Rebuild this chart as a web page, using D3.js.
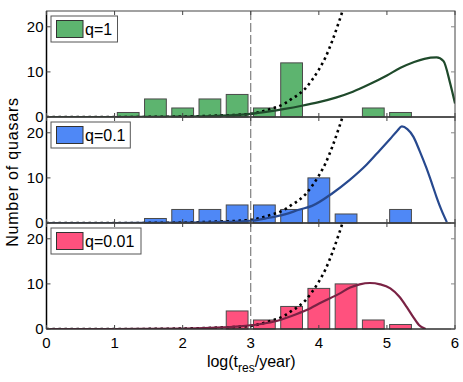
<!DOCTYPE html>
<html><head><meta charset="utf-8">
<script src="https://cdn.jsdelivr.net/npm/d3@7"></script>
<style>body{margin:0;background:#fff}svg{display:block}text{font-family:"Liberation Sans",Arial,sans-serif}</style>
</head><body><svg id="c" width="463" height="382"></svg>
<script>
// ---- data ----
const binCenters = [0.4,0.8,1.2,1.6,2.0,2.4,2.8,3.2,3.6,4.0,4.4,4.8,5.2,5.6];
const countsQ1   = [0,0,1,4,2,4,5,2,12,0,0,2,1,0];
const countsQ01  = [0,0,0,1,3,3,4,4,3,10,2,0,3,0];
const countsQ001 = [0,0,0,0,0,0,4,2,5,9,10,2,1,0];
const labels = ["q=1","q=0.1","q=0.01"];
const xTicks = [0,1,2,3,4,5,6];
const yTicks = [0,10,20];
// model curves
const curveXQ1 = [0,1,1.5,2,2.5,3,3.25,3.5,3.75,4,4.25,4.5,4.75,5,5.2,5.4,5.55,5.73,5.83,5.93,6];
const curveYQ1 = [0,0,0.02,0.08,0.25,0.7,1.2,1.8,2.5,3.3,4.3,5.6,7.3,9.2,10.9,12.2,12.9,13.2,12.4,7.4,3.0];
const curveXQ01 = [0,1,1.5,2,2.5,3,3.25,3.5,3.72,3.9,4.2,4.45,4.7,4.9,5.05,5.15,5.22,5.3,5.39,5.48,5.58,5.66,5.73,5.8,5.88];
const curveYQ01 = [0,0,0.02,0.08,0.2,0.5,1.1,1.9,3.0,3.8,6.6,9.5,12.9,16.2,18.7,20.4,21.4,20.8,19.1,16.0,12.2,8.8,5.7,2.9,0.2];
const curveXQ001 = [0,1,1.5,2,2.5,2.84,3.1,3.33,3.6,3.82,4.05,4.31,4.46,4.6,4.75,4.9,5.05,5.18,5.29,5.38,5.47,5.57];
const curveYQ001 = [0,0,0.02,0.1,0.3,0.6,1.0,1.6,2.9,4.2,6.0,7.9,9.2,9.9,10.2,9.9,9.0,7.2,4.9,2.8,0.9,0];
const refX = [0,1,1.5,2,2.5,3,3.25,3.5,3.6,3.7,3.8,3.9,4.0,4.1,4.2,4.3,4.4];
const refY = [0,0,0.02,0.1,0.3,0.7,1.6,3.0,4.0,5.0,6.3,8.2,10.5,13.3,17.0,21.3,26];

const panels = [
  {counts:countsQ1, cx:curveXQ1, cy:curveYQ1, fill:"#5db46f", line:"#1f4a2b", label:labels[0], lw:66.5},
  {counts:countsQ01, cx:curveXQ01, cy:curveYQ01, fill:"#4f88f6", line:"#27498f", label:labels[1], lw:79.3},
  {counts:countsQ001, cx:curveXQ001, cy:curveYQ001, fill:"#ff517e", line:"#7a2244", label:labels[2], lw:90}
];

const svg = d3.select("#c");
const L=46.5, R=455, T=11, PH=106;
const x = d3.scaleLinear().domain([0,6]).range([L,R]);
const binW = 0.4;

panels.forEach((p,i)=>{
  const top = T + i*PH, bot = top+PH;
  const y = d3.scaleLinear().domain([0,23.5]).range([bot,top]);
  const g = svg.append("g");
  const cid = "clip"+i;
  svg.append("clipPath").attr("id",cid).append("rect").attr("x",L).attr("y",top).attr("width",R-L).attr("height",PH);
  const data = binCenters.map((c,k)=>({c, v:p.counts[k]})).filter(d=>d.v>0);
  g.selectAll("rect.bar").data(data).enter().append("rect")
    .attr("x",d=>x(d.c-binW*0.4)).attr("width",x(binW*0.8)-x(0))
    .attr("y",d=>y(d.v)).attr("height",d=>y(0)-y(d.v))
    .attr("fill",p.fill).attr("stroke","#4a4a4a").attr("stroke-width",1);
  // vertical dashed line
  g.append("line").attr("x1",x(3)).attr("x2",x(3)).attr("y1",top).attr("y2",bot)
    .attr("stroke","#666").attr("stroke-width",1).attr("stroke-dasharray","9,3");
  const line = d3.line().x(d=>x(d[0])).y(d=>y(d[1])).curve(d3.curveMonotoneX);
  const cg = g.append("g").attr("clip-path",`url(#${cid})`);
  cg.append("path").attr("d",line(refX.map((v,k)=>[v,refY[k]])))
    .attr("fill","none").attr("stroke","#000").attr("stroke-width",2.6).attr("stroke-dasharray","2.5,3.5");
  cg.append("path").attr("d",line(p.cx.map((v,k)=>[v,p.cy[k]])))
    .attr("fill","none").attr("stroke",p.line).attr("stroke-width",2.2);
  // border
  g.append("rect").attr("x",L).attr("y",top).attr("width",R-L).attr("height",PH)
    .attr("fill","none").attr("stroke","#444").attr("stroke-width",1);
  g.append("line").attr("x1",L).attr("x2",L).attr("y1",top).attr("y2",bot).attr("stroke","#000").attr("stroke-width",1.5);
  g.append("line").attr("x1",L).attr("x2",R).attr("y1",bot).attr("y2",bot).attr("stroke","#222").attr("stroke-width",1.2);
  // y ticks inward, both sides
  yTicks.forEach(t=>{
    g.append("line").attr("x1",L).attr("x2",L+4).attr("y1",y(t)).attr("y2",y(t)).attr("stroke","#444");
    g.append("line").attr("x1",R-4).attr("x2",R).attr("y1",y(t)).attr("y2",y(t)).attr("stroke","#888");
    g.append("text").attr("x",L-3).attr("y",y(t)).attr("dy","0.36em").attr("text-anchor","end")
      .attr("font-size",15).text(t);
  });
  // x ticks inward top and bottom
  xTicks.forEach(t=>{
    g.append("line").attr("x1",x(t)).attr("x2",x(t)).attr("y1",bot).attr("y2",bot-4).attr("stroke","#444");
    g.append("line").attr("x1",x(t)).attr("x2",x(t)).attr("y1",top).attr("y2",top+4).attr("stroke","#444");
  });
  // legend
  const lg = g.append("g").attr("transform",`translate(${L+4.5},${top+5})`);
  lg.append("rect").attr("width",p.lw).attr("height",26).attr("fill","#fff").attr("stroke","#555").attr("stroke-width",1);
  lg.append("rect").attr("x",5.5).attr("y",4.5).attr("width",26.5).attr("height",17).attr("fill",p.fill).attr("stroke","#333");
  lg.append("text").attr("x",34).attr("y",19).attr("font-size",16).text(p.label);
});

// x axis labels
const bottom = T+3*PH;
xTicks.forEach(t=>{
  svg.append("text").attr("x",x(t)).attr("y",bottom+19).attr("text-anchor","middle").attr("font-size",15).text(t);
});
const xl = svg.append("text").attr("x",x(3)+0.5).attr("y",bottom+38).attr("text-anchor","middle").attr("font-size",16);
xl.append("tspan").text("log(t");
xl.append("tspan").attr("font-size",12).attr("dy",5).text("res");
xl.append("tspan").attr("dy",-5).text("/year)");
svg.append("text").attr("transform",`translate(17.5,${T+1.5*PH+2}) rotate(-90)`).attr("text-anchor","middle")
  .attr("font-size",16).attr("letter-spacing",0.8).text("Number of quasars");
</script></body></html>
